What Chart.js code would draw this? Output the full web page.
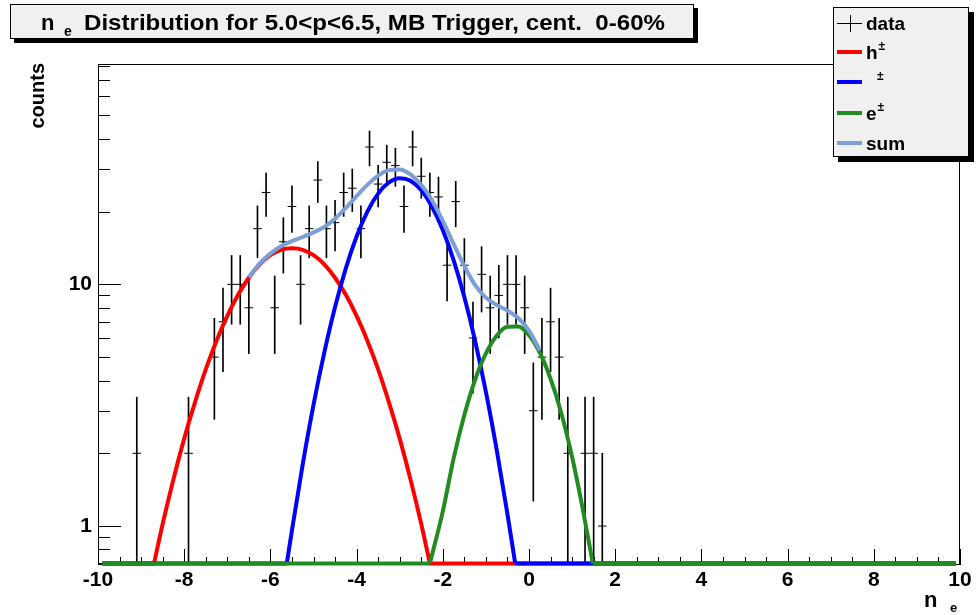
<!DOCTYPE html>
<html>
<head>
<meta charset="utf-8">
<script src="https://cdn.jsdelivr.net/npm/chart.js@4.4.0/dist/chart.umd.min.js"></script>
<style>
  html, body { margin: 0; padding: 0; background: #fff; }
  canvas { display: block; }
</style>
</head>
<body>
<canvas id="graph" width="976" height="615"></canvas>
<script>
// histogram: bin centres (n_e) and counts, bins are 0.2 wide
const binX = [-9.1, -7.9, -7.3, -7.1, -6.9, -6.7, -6.5, -6.3, -6.1, -5.9, -5.7, -5.5, -5.3, -5.1,
  -4.9, -4.7, -4.5, -4.3, -4.1, -3.9, -3.7, -3.5, -3.3, -3.1, -2.9, -2.7, -2.5, -2.3, -2.1, -1.9,
  -1.7, -1.5, -1.3, -1.1, -0.9, -0.7, -0.5, -0.3, -0.1, 0.1, 0.3, 0.5, 0.7, 0.9, 1.3, 1.5, 1.7];
const counts = [2, 2, 5, 7, 10, 10, 8, 17, 24, 8, 15, 21, 10, 17,
  27, 17, 18, 24, 25, 17, 37, 26, 32, 31, 21, 37, 28, 24, 23, 12,
  22, 12, 6, 11, 8, 9, 10, 10, 8, 3, 5, 7, 5, 2, 2, 2, 1];
const binWidth = 0.2;

// fit components
const hX = [-8.7, -8.5, -8.25, -8, -7.75, -7.5, -7.25, -7, -6.75, -6.5, -6.25, -6, -5.75, -5.5,
  -5.25, -5, -4.75, -4.5, -4.25, -4, -3.75, -3.5, -3.25, -3, -2.75, -2.5, -2.3];
const hY = [0.7, 1.02, 1.56, 2.3, 3.25, 4.45, 5.85, 7.4, 9.05, 10.65, 12.1, 13.2, 13.9, 14.1,
  13.9, 13.2, 12.1, 10.65, 9.05, 7.4, 5.85, 4.45, 3.25, 2.3, 1.56, 1.02, 0.7];
const piX = [-5.62, -5.5, -5.25, -5, -4.75, -4.5, -4.25, -4, -3.75, -3.5, -3.25, -3, -2.75, -2.5,
  -2.25, -2, -1.75, -1.5, -1.25, -1, -0.75, -0.5, -0.32];
const piY = [0.7, 0.96, 1.8, 3.17, 5.22, 8.06, 11.65, 15.77, 19.99, 23.73, 26.39, 27.49, 26.81, 24.49,
  20.96, 16.79, 12.6, 8.86, 5.83, 3.59, 2.07, 1.12, 0.7];
const eX = [-2.3, -2, -1.75, -1.5, -1.25, -1, -0.75, -0.5, -0.25, 0, 0.25, 0.5, 0.75, 1, 1.25, 1.48];
const eY = [0.7, 1.15, 1.9, 2.88, 4.03, 5.18, 6.13, 6.67, 6.69, 6.16, 5.22, 4.07, 2.93, 1.93, 1.17, 0.7];
const sumX = [-6.5, -6.25, -6, -5.75, -5.5, -5.25, -5, -4.75, -4.5, -4.25, -4, -3.75, -3.5, -3.25,
  -3, -2.75, -2.5, -2.25, -2, -1.75, -1.5, -1.25, -1, -0.75, -0.5, -0.25, 0, 0.25];
const sumY = [10.7, 12.2, 13.4, 14.4, 15.1, 15.7, 16.4, 17.3, 18.7, 20.7, 23.2, 25.8, 28.2, 29.7,
  29.9, 28.5, 25.8, 22.3, 18.3, 14.7, 11.9, 9.93, 8.81, 8.22, 7.79, 7.26, 6.43, 5.34];

// where each component is zero (drawn on the floor of the frame)
const hZero = [[-9.9, -8.7], [-2.3, 9.9]];
const piZero = [[-9.9, -5.62], [-0.32, 9.9]];
const eZero = [[-9.9, -2.3], [1.48, 9.9]];

const xTicks = [-10, -8, -6, -4, -2, 0, 2, 4, 6, 8, 10];
const yTicks = [1, 10];
const yMin = 0.69, yMax = 81.6, floorY = 0.7;

const RED = '#ff0000', BLUE = '#0000ff', GREEN = '#228b22', SUM = '#7b9fd6';
const FONT = '"Liberation Sans", Arial, Helvetica, sans-serif';

const pts = (xs, ys) => xs.map((x, i) => ({ x: x, y: Math.max(ys[i], floorY) }));
const zero = ranges => {
  let out = [];
  ranges.forEach(r => { out.push({ x: r[0], y: floorY }, { x: r[1], y: floorY }, { x: r[1], y: null }); });
  return out;
};
const curve = (data, color) => ({
  type: 'line', data: data, borderColor: color, borderWidth: 4, pointRadius: 0,
  cubicInterpolationMode: 'monotone', fill: false, clip: 3
});
const floorLine = (data, color) => ({
  type: 'line', data: data, borderColor: color, borderWidth: 4, pointRadius: 0,
  tension: 0, fill: false, clip: 3, spanGaps: false
});

// inward ticks and the frame, ROOT style
const frameTicks = {
  id: 'frameTicks',
  beforeDatasetsDraw(chart) {
    const { ctx, chartArea: a, scales } = chart;
    const x = scales.x, y = scales.y;
    ctx.save();
    ctx.strokeStyle = '#000';
    ctx.lineWidth = 1;
    ctx.strokeRect(a.left + 0.5, a.top + 0.5, a.right - a.left - 1, a.bottom - a.top - 1);
    ctx.beginPath();
    for (let k = 0; k <= 40; k++) {
      const v = -10 + k * 0.5;
      const px = Math.round(x.getPixelForValue(v)) + 0.5;
      const len = k % 4 === 0 ? 16 : 8;
      ctx.moveTo(px, a.bottom);
      ctx.lineTo(px, a.bottom - len);
    }
    [0.1, 1, 10].forEach(d => {
      for (let m = 1; m <= 9; m++) {
        const v = m * d;
        if (v < yMin || v > yMax) continue;
        const py = Math.round(y.getPixelForValue(v)) + 0.5;
        ctx.moveTo(a.left, py);
        ctx.lineTo(a.left + (m === 1 ? 23 : 12), py);
      }
    });
    ctx.stroke();
    ctx.restore();
  }
};

// title pave, legend pave and axis titles
const decor = {
  id: 'decor',
  afterDraw(chart) {
    const ctx = chart.ctx;
    ctx.save();
    // title box
    ctx.fillStyle = '#000';
    ctx.fillRect(14, 8, 684, 35);
    ctx.fillStyle = '#f0f0f0';
    ctx.fillRect(10, 4, 684, 35);
    ctx.strokeStyle = '#000';
    ctx.lineWidth = 1;
    ctx.strokeRect(10.5, 4.5, 683, 34);
    ctx.fillStyle = '#000';
    ctx.textBaseline = 'alphabetic';
    ctx.textAlign = 'left';
    ctx.font = 'bold 22px ' + FONT;
    ctx.fillText('n', 41, 30);
    ctx.font = 'bold 14px ' + FONT;
    ctx.fillText('e', 64, 36);
    ctx.font = 'bold 22px ' + FONT;
    const title = 'Distribution for 5.0<p<6.5, MB Trigger, cent.  0-60%';
    const w = ctx.measureText(title).width;
    ctx.save();
    ctx.translate(84, 30);
    ctx.scale(581 / w, 1);
    ctx.fillText(title, 0, 0);
    ctx.restore();

    // legend box
    ctx.fillStyle = '#000';
    ctx.fillRect(838, 12, 136, 150);
    ctx.fillStyle = '#f0f0f0';
    ctx.fillRect(833, 7, 136, 150);
    ctx.strokeRect(833.5, 7.5, 135, 149);
    const rows = [
      { y: 23, label: 'data', sup: '' },
      { y: 52, label: 'h', sup: '\u00b1', color: RED },
      { y: 82, label: '', sup: '\u00b1', color: BLUE },
      { y: 113, label: 'e', sup: '\u00b1', color: GREEN },
      { y: 143, label: 'sum', sup: '', color: SUM }
    ];
    rows.forEach(r => {
      if (r.color) {
        ctx.strokeStyle = r.color;
        ctx.lineWidth = 4;
        ctx.beginPath();
        ctx.moveTo(837, r.y);
        ctx.lineTo(862, r.y);
        ctx.stroke();
      } else {
        ctx.strokeStyle = '#000';
        ctx.lineWidth = 1;
        ctx.beginPath();
        ctx.moveTo(837, r.y + 0.5);
        ctx.lineTo(862, r.y + 0.5);
        ctx.moveTo(850.5, r.y - 8);
        ctx.lineTo(850.5, r.y + 9);
        ctx.stroke();
      }
      ctx.fillStyle = '#000';
      ctx.font = 'bold 19px ' + FONT;
      ctx.textBaseline = 'alphabetic';
      ctx.fillText(r.label, 866, r.y + 7);
      if (r.sup) {
        const lw = ctx.measureText(r.label).width;
        ctx.font = 'bold 12px ' + FONT;
        ctx.fillText(r.sup, r.label ? 866 + lw + 1 : 877, r.y - 2);
      }
    });

    // axis titles
    ctx.fillStyle = '#000';
    ctx.font = 'bold 20px ' + FONT;
    ctx.save();
    ctx.translate(44, 63);
    ctx.rotate(-Math.PI / 2);
    ctx.textAlign = 'right';
    ctx.fillText('counts', 0, 0);
    ctx.restore();
    ctx.font = 'bold 22px ' + FONT;
    ctx.fillText('n', 924, 607);
    ctx.font = 'bold 13px ' + FONT;
    ctx.fillText('e', 950, 612);
    ctx.restore();
  }
};

new Chart(document.getElementById('graph'), {
  type: 'line',
  data: {
    datasets: [
      curve(pts(sumX, sumY), SUM),
      curve(pts(eX, eY), GREEN),
      floorLine(zero(eZero), GREEN),
      curve(pts(piX, piY), BLUE),
      floorLine(zero(piZero), BLUE),
      curve(pts(hX, hY), RED),
      floorLine(zero(hZero), RED),
      {
        // horizontal bar of each data point = bin width
        type: 'line', showLine: false,
        data: binX.map((x, i) => ({ x: x, y: counts[i] })),
        pointStyle: 'line', pointRadius: binWidth / 2 * 43.1, pointBorderWidth: 1,
        pointBorderColor: '#000', borderColor: '#000'
      },
      {
        // sqrt(N) error bars
        type: 'bar', grouped: false, barThickness: 1,
        data: binX.map((x, i) => ({
          x: x,
          y: [Math.max(counts[i] - Math.sqrt(counts[i]), floorY), counts[i] + Math.sqrt(counts[i])]
        })),
        backgroundColor: '#000', borderWidth: 0
      }
    ]
  },
  options: {
    responsive: false,
    animation: false,
    devicePixelRatio: 1,
    layout: { padding: { top: 64, right: 16, left: 0, bottom: 0 } },
    plugins: { legend: { display: false }, tooltip: { enabled: false }, title: { display: false } },
    scales: {
      x: {
        type: 'linear', min: -10, max: 10, offset: false,
        grid: { display: false, drawTicks: false },
        border: { display: false },
        afterFit: s => { s.height = 50; },
        afterBuildTicks: s => { s.ticks = xTicks.map(v => ({ value: v })); },
        ticks: { autoSkip: false, maxRotation: 0, padding: 3, color: '#000',
          font: { family: FONT, size: 21, weight: 'bold' } }
      },
      y: {
        type: 'logarithmic', min: yMin, max: yMax,
        grid: { display: false, drawTicks: false },
        border: { display: false },
        afterFit: s => { s.width = 98; },
        afterBuildTicks: s => { s.ticks = yTicks.map(v => ({ value: v })); },
        ticks: { autoSkip: false, padding: 6, color: '#000',
          callback: v => String(v),
          font: { family: FONT, size: 21, weight: 'bold' } }
      }
    }
  },
  plugins: [frameTicks, decor]
});
</script>
</body>
</html>
